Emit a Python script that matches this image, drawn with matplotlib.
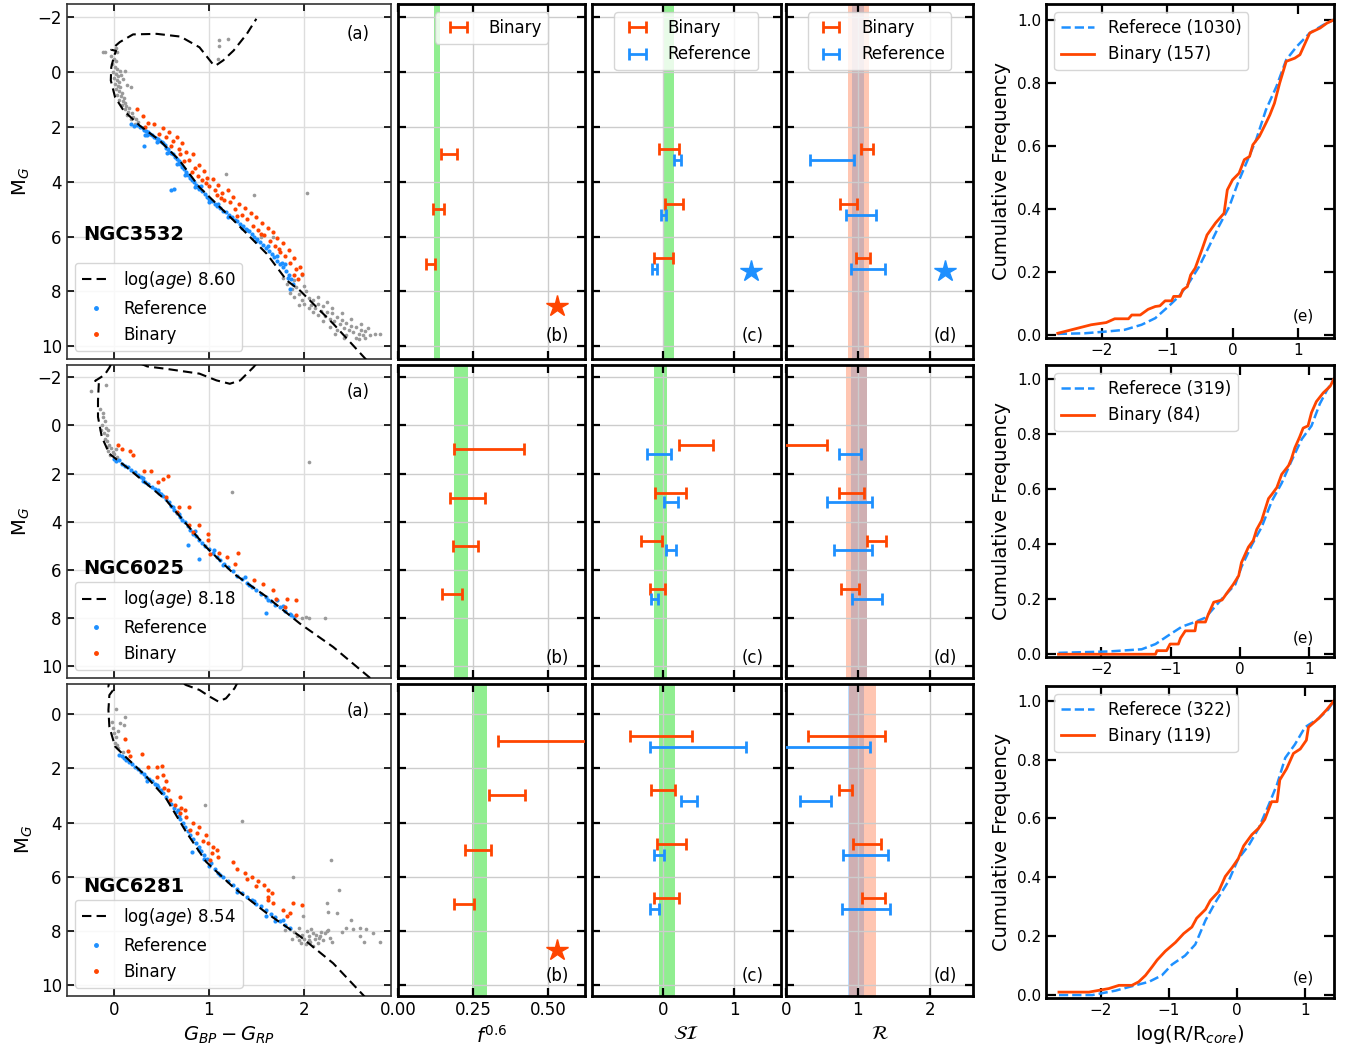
import matplotlib
matplotlib.use("Agg")
import matplotlib.pyplot as plt
from matplotlib.lines import Line2D

W, H = 1351, 1051
plt.rcParams.update({
    "font.family": "DejaVu Sans",
    "mathtext.fontset": "dejavusans",
    "font.size": 12,
})

ORANGE = "orangered"
BLUE = "dodgerblue"
GREY = "#9a9a9a"
GREEN = "lightgreen"

clusters = ["NGC3532", "NGC6025", "NGC6281"]
log_ages = ["8.60", "8.18", "8.54"]

# ---------------- colour-magnitude diagrams: (G_BP - G_RP, M_G) ----------------
n3532_iso = [(2.66, 10.5), (2.31, 9.18), (1.96, 7.97), (1.82, 7.6), (1.61, 6.63), (1.26, 5.41),
             (0.90, 4.20), (0.69, 3.22), (0.48, 2.49), (0.27, 1.95), (0.10, 1.40), (0.01, 0.91),
             (-0.035, 0.30), (-0.03, -0.18), (0.0, -0.6), (0.02, -0.78), (-0.03, -0.82),
             (0.01, -0.95), (0.06, -1.1), (0.2, -1.38), (0.45, -1.4), (0.7, -1.3), (0.9, -0.91),
             (1.04, -0.3), (1.07, -0.24), (1.15, -0.43), (1.26, -0.79), (1.40, -1.40), (1.5, -1.95)]
n3532_all = [(-0.03, -0.6), (0.0, -0.5), (0.02, -0.4), (-0.02, -0.3), (0.01, -0.2), (0.03, -0.1),
             (-0.01, 0.0), (0.02, 0.05), (0.04, 0.15), (0.0, 0.2), (0.03, 0.3), (0.05, 0.35),
             (0.01, 0.42), (0.04, 0.5), (0.06, 0.55), (0.02, 0.62), (0.05, 0.7), (0.08, 0.75),
             (0.03, 0.82), (0.07, 0.88), (0.1, 0.95), (0.05, 1.0), (0.09, 1.05), (0.12, 1.12),
             (0.08, 1.18), (0.13, 1.25), (0.16, 1.3), (0.11, 1.35), (0.15, 1.45), (0.19, 1.5),
             (0.14, 1.55), (0.2, 1.62), (0.23, 1.7), (0.18, 1.72), (0.25, 1.8), (0.22, 1.88),
             (0.02, -0.9), (-0.1, -0.75), (-0.12, -0.72), (0.09, 0.24), (0.11, -0.06), (0.18, 0.55),
             (0.14, 0.48), (0.07, 0.1), (0.06, -0.05), (0.03, -0.75),
             (1.11, -1.16), (1.2, -1.22), (1.11, -0.97), (1.10, -0.49), (1.18, 3.71), (1.47, 4.5),
             (2.03, 4.42), (1.55, 6.02), (1.68, 6.02), (1.98, 7.42),
             (1.82, 7.75), (1.88, 7.9), (1.85, 8.05), (1.92, 7.85), (1.95, 8.1), (1.9, 8.2),
             (1.98, 8.3), (2.02, 8.0), (2.05, 8.25), (2.0, 8.45), (2.08, 8.5), (2.1, 8.3),
             (2.12, 8.6), (2.15, 8.45), (2.18, 8.7), (2.2, 8.55), (2.15, 8.85), (2.22, 8.9),
             (2.25, 8.75), (2.28, 9.0), (2.3, 8.8), (2.32, 9.1), (2.35, 8.95), (2.38, 9.2),
             (2.4, 9.05), (2.42, 9.35), (2.45, 9.15), (2.48, 9.4), (2.5, 9.25), (2.52, 9.5),
             (2.55, 9.3), (2.58, 9.55), (2.6, 9.4), (2.62, 9.6), (2.65, 9.45), (2.7, 9.6),
             (2.75, 9.55), (2.8, 9.55), (2.35, 9.4), (2.45, 9.6), (2.28, 9.3), (2.55, 9.7),
             (2.2, 9.1), (2.1, 8.75), (2.05, 8.6), (1.95, 8.5), (2.4, 8.8), (2.5, 9.0),
             (2.6, 9.2), (2.68, 9.35), (2.3, 8.6), (2.15, 8.2), (1.9, 7.6), (2.0, 7.8),
             (2.42, 9.7), (2.58, 9.75), (2.33, 9.55), (1.78, 7.5), (2.25, 8.4), (2.65, 9.7)]
n3532_ref = [(0.18, 1.9), (0.21, 1.95), (0.24, 1.92), (0.27, 2.0), (0.3, 2.02), (0.32, 2.1),
             (0.34, 2.15), (0.36, 2.2),
             (0.33, 2.3), (0.38, 2.25), (0.4, 2.3), (0.42, 2.35), (0.44, 2.4), (0.46, 2.45),
             (0.48, 2.5), (0.5, 2.55), (0.52, 2.6), (0.54, 2.65), (0.55, 2.75), (0.57, 2.8),
             (0.58, 2.9), (0.6, 2.95), (0.62, 3.0), (0.64, 3.1), (0.66, 3.18), (0.68, 3.25),
             (0.7, 3.35), (0.72, 3.45), (0.74, 3.55), (0.76, 3.65), (0.78, 3.75), (0.8, 3.85),
             (0.82, 3.95), (0.84, 4.0), (0.86, 4.1), (0.88, 4.2), (0.9, 4.28), (0.6, 4.3),
             (0.63, 4.25), (0.93, 4.35), (0.96, 4.45), (0.98, 4.55), (1.0, 4.62), (1.03, 4.7),
             (1.06, 4.8), (1.09, 4.88), (1.12, 4.95), (1.15, 5.05), (1.18, 5.12), (1.21, 5.2),
             (1.24, 5.28), (1.27, 5.38), (1.3, 5.45), (1.33, 5.55), (1.36, 5.62), (1.39, 5.72),
             (1.42, 5.8), (1.45, 5.9), (1.48, 6.0), (1.51, 6.1), (1.54, 6.2), (1.57, 6.3),
             (1.6, 6.42), (1.63, 6.52), (1.66, 6.62), (1.69, 6.75), (1.72, 6.88), (1.75, 7.0),
             (1.78, 7.12), (1.81, 7.25), (1.84, 7.4), (1.87, 7.55), (1.89, 7.75), (1.86, 7.9),
             (1.8, 7.0), (1.72, 6.7), (1.5, 6.15), (1.35, 5.7), (1.2, 5.3), (1.0, 4.75),
             (0.85, 4.2), (0.75, 3.75), (0.66, 3.35), (0.56, 2.95), (0.45, 2.55), (0.35, 2.3),
             (0.31, 2.7), (0.92, 4.15), (1.1, 4.82), (1.4, 5.75), (1.62, 6.35), (1.77, 6.95),
             (1.83, 7.5)]
n3532_bin = [(0.24, 1.34), (0.3, 1.6), (0.36, 1.85), (0.33, 2.0), (0.42, 1.9), (0.47, 2.25),
             (0.52, 2.05), (0.55, 2.35), (0.58, 2.2), (0.62, 2.5), (0.6, 2.7), (0.66, 2.35),
             (0.68, 2.8), (0.72, 2.6), (0.7, 3.0), (0.76, 2.9), (0.79, 3.2), (0.74, 3.25),
             (0.83, 3.0), (0.85, 3.5), (0.82, 3.65), (0.9, 3.4), (0.88, 3.8), (0.95, 3.6),
             (0.93, 3.95), (0.98, 3.85), (1.0, 4.15), (1.04, 3.9), (1.06, 4.3), (1.1, 4.1),
             (1.08, 4.5), (1.14, 4.4), (1.16, 4.65), (1.2, 4.3), (1.22, 4.75), (1.25, 4.55),
             (1.28, 5.0), (1.32, 4.8), (1.35, 5.2), (1.38, 4.95), (1.4, 5.35), (1.44, 5.15),
             (1.46, 5.6), (1.5, 5.3), (1.52, 5.75), (1.56, 5.5), (1.58, 5.95), (1.62, 5.7),
             (1.64, 6.15), (1.68, 5.85), (1.7, 6.35), (1.72, 6.05), (1.75, 6.55), (1.78, 6.25),
             (1.8, 6.7), (1.84, 6.5), (1.86, 6.95), (1.9, 6.8), (1.92, 7.2), (1.96, 7.1),
             (1.9, 7.4), (1.94, 7.55), (1.98, 7.35), (1.13, 4.6), (1.3, 5.25), (0.97, 4.05),
             (1.55, 5.9), (1.74, 6.45)]

n6025_iso = [(2.7, 10.5), (2.31, 9.21), (1.96, 8.24), (1.61, 7.13), (1.26, 6.16), (0.97, 5.06),
             (0.76, 4.09), (0.55, 3.12), (0.34, 2.42), (0.13, 1.73), (-0.05, 1.18), (-0.13, 0.48),
             (-0.17, -0.35), (-0.17, -1.04), (-0.16, -1.85), (-0.2, -1.85), (-0.1, -2.1),
             (-0.05, -2.4), (0.0, -2.8), (0.2, -2.7), (0.35, -2.45), (0.55, -2.35), (0.9, -2.15),
             (1.08, -1.87), (1.22, -1.73), (1.33, -1.87), (1.47, -2.42), (1.55, -2.8)]
n6025_all = [(-0.24, -1.43), (-0.09, -1.66), (-0.15, -0.69), (-0.12, -0.35), (-0.1, -0.2),
             (-0.13, 0.0), (-0.09, 0.1), (-0.11, 0.3), (-0.08, 0.4), (-0.1, 0.55), (-0.07, 0.65),
             (-0.05, 0.8), (-0.08, 0.9), (-0.03, 0.95), (-0.06, 1.05), (-0.01, 1.1), (0.02, 1.0),
             (0.0, 1.2), (-0.04, 1.25), (0.03, 1.3), (-0.12, -0.5), (-0.14, 0.2), (-0.06, 0.2),
             (2.06, 1.52), (1.24, 2.77), (2.06, 7.99), (2.22, 8.0), (1.98, 8.0), (2.02, 7.95)]
n6025_ref = [(0.0, 1.4), (0.02, 1.5), (0.05, 1.45), (0.08, 1.6), (0.12, 1.7), (0.15, 1.75),
             (0.18, 1.85), (0.22, 1.95), (0.25, 2.05), (0.28, 2.15), (0.3, 2.2), (0.33, 2.35),
             (0.36, 2.45), (0.4, 2.55), (0.43, 2.65), (0.46, 2.7), (0.49, 2.85), (0.52, 2.95),
             (0.55, 3.05), (0.58, 3.2), (0.6, 3.35), (0.63, 3.5), (0.66, 3.65), (0.7, 3.8),
             (0.72, 3.95), (0.75, 4.0), (0.78, 4.2), (0.8, 4.35), (0.83, 4.5), (0.86, 4.6),
             (0.9, 4.75), (0.93, 4.9), (0.96, 5.0), (1.0, 5.15), (1.04, 5.3), (1.08, 5.45),
             (1.12, 5.6), (1.16, 5.75), (1.2, 5.9), (1.25, 6.05), (1.3, 6.25), (1.35, 6.4),
             (1.4, 6.55), (1.45, 6.7), (1.5, 6.85), (1.55, 7.0), (1.6, 7.15), (1.65, 7.3),
             (1.7, 7.45), (1.75, 7.55), (1.8, 7.7), (1.85, 7.85), (1.9, 7.95), (1.72, 7.25),
             (1.78, 7.5), (0.78, 4.99), (0.9, 5.54), (1.6, 7.8), (0.85, 4.4), (1.05, 5.2),
             (1.38, 6.3), (0.68, 3.7), (0.47, 2.8), (0.3, 2.3), (0.62, 3.4), (1.15, 5.8),
             (1.42, 6.65), (1.62, 7.25), (1.87, 7.9)]
n6025_bin = [(0.04, 0.83), (0.08, 0.97), (0.17, 1.07), (0.2, 1.25), (0.32, 1.9), (0.39, 1.9),
             (0.52, 2.22), (0.57, 2.1), (0.46, 2.35), (0.55, 2.98), (0.68, 3.39), (0.79, 3.39),
             (0.66, 3.6), (0.79, 4.16), (0.89, 4.16), (0.83, 4.43), (0.99, 4.5), (0.99, 4.78),
             (1.01, 5.33), (1.11, 5.3), (1.19, 5.47), (1.31, 5.29), (1.27, 5.75), (1.48, 6.44),
             (1.57, 6.58), (1.68, 6.86), (1.71, 7.2), (1.82, 7.2), (1.92, 7.27), (1.8, 7.55),
             (1.92, 7.89)]

n6281_iso = [(2.66, 10.5), (2.31, 9.2), (1.96, 8.2), (1.61, 7.35), (1.26, 6.4), (0.97, 5.45),
             (0.76, 4.35), (0.55, 3.12), (0.34, 2.3), (0.13, 1.6), (0.01, 1.19), (-0.05, 0.46),
             (-0.06, -0.16), (-0.05, -0.71), (-0.01, -0.9), (-0.06, -1.02), (-0.05, -1.3),
             (0.1, -1.6), (0.4, -1.6), (0.65, -1.3), (0.76, -1.08), (0.9, -0.9), (1.01, -0.65),
             (1.1, -0.47), (1.18, -0.59), (1.27, -0.96), (1.32, -1.3)]
n6281_all = [(0.02, -0.18), (0.11, 0.11), (0.06, 0.33), (0.1, 0.39), (-0.01, 0.5), (0.0, 0.7),
             (0.02, 0.85), (0.01, 1.07), (0.04, 1.25), (0.09, 1.38), (0.03, 1.15), (-0.02, 0.3),
             (0.04, 0.6), (0.96, 3.35), (1.35, 3.94), (2.29, 5.38), (2.37, 6.51), (1.89, 6.02),
             (2.24, 6.96), (2.26, 7.29), (2.35, 7.35), (1.99, 7.47), (2.5, 7.6), (2.59, 7.91),
             (2.66, 7.94), (2.52, 7.94), (2.73, 8.09), (2.8, 8.4), (2.59, 8.21), (2.64, 8.4),
             (2.45, 7.9), (2.4, 8.05), (1.85, 7.95), (1.9, 8.05), (1.95, 7.9), (1.98, 8.15),
             (2.0, 8.3), (2.03, 8.0), (2.05, 8.2), (2.07, 8.4), (2.1, 8.1), (2.12, 8.3),
             (2.15, 8.45), (2.17, 8.2), (2.2, 8.35), (2.22, 8.1), (2.25, 8.0), (2.28, 8.25),
             (1.95, 8.35), (2.02, 8.5), (2.1, 8.55), (2.18, 8.05), (1.93, 8.2), (2.08, 7.95),
             (2.13, 8.15), (1.97, 8.45), (2.3, 8.4), (2.26, 7.97), (1.8, 7.97), (1.88, 8.3),
             (2.05, 8.35), (2.16, 8.28)]
n6281_ref = [(0.05, 1.5), (0.08, 1.55), (0.1, 1.62), (0.13, 1.7), (0.16, 1.75), (0.19, 1.85),
             (0.22, 1.95), (0.25, 2.02), (0.28, 2.12), (0.31, 2.2), (0.34, 2.3), (0.37, 2.4),
             (0.4, 2.48), (0.43, 2.58), (0.46, 2.68), (0.49, 2.8), (0.52, 2.92), (0.55, 3.05),
             (0.58, 3.2), (0.6, 3.3), (0.63, 3.45), (0.65, 3.6), (0.68, 3.75), (0.7, 3.88),
             (0.73, 4.02), (0.75, 4.15), (0.78, 4.3), (0.8, 4.45), (0.83, 4.6), (0.86, 4.75),
             (0.89, 4.9), (0.92, 5.05), (0.95, 5.2), (0.98, 5.35), (1.02, 5.5), (1.06, 5.7),
             (1.1, 5.85), (1.15, 6.0), (1.2, 6.15), (1.25, 6.3), (1.3, 6.45), (1.35, 6.6),
             (1.4, 6.75), (1.45, 6.85), (1.5, 7.0), (1.55, 7.1), (1.6, 7.25), (1.65, 7.38),
             (1.7, 7.5), (1.75, 7.65), (1.8, 7.78), (1.85, 7.9), (0.82, 5.1), (1.0, 5.6),
             (1.3, 6.55), (1.6, 7.45), (1.78, 7.6), (0.45, 2.6), (0.67, 3.55), (0.9, 5.0),
             (1.12, 5.95), (1.48, 6.9), (1.7, 7.62), (0.95, 5.35), (0.35, 2.45)]
n6281_bin = [(0.11, 0.92), (0.15, 1.35), (0.17, 1.54), (0.29, 1.47), (0.36, 1.96), (0.45, 1.96),
             (0.5, 1.9), (0.52, 2.24), (0.45, 2.3), (0.55, 2.45), (0.53, 2.73), (0.57, 2.8),
             (0.59, 3.17), (0.69, 3.07), (0.64, 3.35), (0.71, 3.47), (0.75, 3.53), (0.69, 3.66),
             (0.76, 3.78), (0.83, 4.03), (0.9, 4.15), (0.8, 4.27), (0.87, 4.4), (0.97, 4.46),
             (0.94, 4.7), (0.99, 4.77), (1.04, 4.89), (1.08, 5.0), (1.03, 5.14), (1.1, 5.26),
             (1.25, 5.45), (1.3, 5.7), (1.38, 5.85), (1.45, 6.0), (1.52, 6.15), (1.5, 6.35),
             (1.58, 6.3), (1.62, 6.5), (1.66, 6.62), (1.62, 6.74), (1.68, 6.98), (1.78, 7.23),
             (1.85, 7.35), (1.89, 6.98), (1.98, 7.04), (1.82, 7.47), (1.62, 6.85), (1.4, 6.1),
             (1.01, 5.38)]

isochrones = [n3532_iso, n6025_iso, n6281_iso]
all_stars = [n3532_all, n6025_all, n6281_all]
ref_stars = [n3532_ref, n6025_ref, n6281_ref]
bin_stars = [n3532_bin, n6025_bin, n6281_bin]

# ---------------- binned statistics per magnitude bin ----------------
mag_bins = [[3, 5, 7], [1, 3, 5, 7], [1, 3, 5, 7]]

f_lo = [[0.141, 0.115, 0.091], [0.185, 0.171, 0.182, 0.146], [0.332, 0.302, 0.222, 0.186]]
f_hi = [[0.195, 0.152, 0.122], [0.419, 0.289, 0.265, 0.212], [0.75, 0.422, 0.31, 0.252]]
f_band = [(0.12, 0.14), (0.186, 0.231), (0.247, 0.296)]

si_bin_lo = [[-0.05, 0.022, -0.126], [0.223, -0.112, -0.303, -0.181], [-0.456, -0.168, -0.08, -0.121]]
si_bin_hi = [[0.227, 0.283, 0.134], [0.702, 0.325, -0.01, 0.032], [0.404, 0.172, 0.325, 0.227]]
si_ref_lo = [[0.153, -0.024, -0.153], [-0.219, 0.014, 0.042, -0.168], [-0.181, 0.255, -0.121, -0.177]]
si_ref_hi = [[0.246, 0.046, -0.089], [0.106, 0.213, 0.186, -0.075], [1.162, 0.483, 0.018, -0.061]]
si_band = [(0.0, 0.157), (-0.12, 0.055), (-0.05, 0.17)]

r_bin_lo = [[1.037, 0.756, 0.968], [-0.1, 0.733, 1.12, 0.761], [0.3, 0.733, 0.936, 1.06]]
r_bin_hi = [[1.21, 0.986, 1.162], [0.567, 1.083, 1.397, 1.01], [1.374, 0.917, 1.314, 1.383]]
r_ref_lo = [[0.34, 0.839, 0.908], [0.733, 0.567, 0.673, 0.913], [-0.2, 0.198, 0.788, 0.775]]
r_ref_hi = [[0.94, 1.245, 1.383], [1.037, 1.189, 1.199, 1.328], [1.162, 0.622, 1.415, 1.452]]
r_band_ref = [(0.92, 1.08), (0.91, 1.12), (0.86, 1.09)]
r_band_bin = [(0.86, 1.15), (0.83, 1.12), (0.87, 1.25)]

# significance stars: (panel, x, M_G, colour)
stars = [
    [("b", 0.528, 8.55, ORANGE), ("c", 1.23, 7.26, BLUE), ("d", 2.21, 7.26, BLUE)],
    [],
    [("b", 0.528, 8.71, ORANGE)],
]

# ---------------- cumulative radial distributions ----------------
cdf_ref_n = [1030, 319, 322]
cdf_bin_n = [157, 84, 119]
cdf_ref_x = [
    [-2.67, -2.26, -1.90, -1.65, -1.39, -1.18, -0.98, -0.82, -0.67, -0.51, -0.36, -0.21, -0.05,
     0.08, 0.21, 0.36, 0.51, 0.67, 0.82, 0.98, 1.18, 1.39, 1.55],
    [-2.62, -1.90, -1.42, -1.22, -1.03, -0.84, -0.65, -0.50, -0.36, -0.22, -0.07, 0.02, 0.17,
     0.31, 0.46, 0.60, 0.74, 0.89, 1.03, 1.15, 1.25, 1.355],
    [-2.61, -2.12, -1.78, -1.54, -1.29, -1.10, -0.95, -0.76, -0.61, -0.46, -0.32, -0.12, 0.02,
     0.17, 0.32, 0.46, 0.59, 0.71, 0.85, 1.00, 1.20, 1.34, 1.425],
]
cdf_ref_y = [
    [0.003, 0.005, 0.011, 0.016, 0.032, 0.053, 0.09, 0.122, 0.164, 0.217, 0.28, 0.344, 0.407,
     0.481, 0.545, 0.619, 0.714, 0.788, 0.873, 0.915, 0.958, 0.984, 1.0],
    [0.005, 0.01, 0.018, 0.037, 0.069, 0.1, 0.117, 0.133, 0.173, 0.213, 0.253, 0.317, 0.397,
     0.461, 0.557, 0.621, 0.701, 0.781, 0.829, 0.909, 0.957, 1.0],
    [0.0, 0.0, 0.015, 0.03, 0.045, 0.067, 0.104, 0.134, 0.172, 0.254, 0.313, 0.388, 0.463,
     0.507, 0.567, 0.642, 0.716, 0.806, 0.851, 0.91, 0.94, 0.97, 1.0],
]
cdf_bin_x = [
    [-2.67, -2.16, -1.93, -1.80, -1.59, -1.54, -1.41, -1.29, -1.18, -1.11, -1.03, -0.93, -0.90,
     -0.80, -0.76, -0.69, -0.64, -0.57, -0.46, -0.39, -0.26, -0.13, -0.08, 0.0, 0.10, 0.18,
     0.26, 0.31, 0.41, 0.51, 0.57, 0.64, 0.72, 0.82, 0.95, 1.03, 1.11, 1.18, 1.34, 1.44, 1.55],
    [-2.62, -1.22, -1.20, -1.06, -1.01, -0.89, -0.86, -0.79, -0.65, -0.63, -0.50, -0.46, -0.38,
     -0.26, -0.17, -0.10, -0.02, 0.02, 0.12, 0.19, 0.24, 0.31, 0.41, 0.46, 0.53, 0.60, 0.70,
     0.74, 0.79, 0.86, 0.91, 0.98, 1.03, 1.10, 1.20, 1.30, 1.355],
    [-2.61, -2.17, -1.88, -1.73, -1.54, -1.44, -1.34, -1.24, -1.17, -1.05, -0.90, -0.78, -0.66,
     -0.59, -0.46, -0.39, -0.27, -0.17, -0.07, 0.02, 0.10, 0.22, 0.32, 0.41, 0.51, 0.59, 0.63,
     0.73, 0.83, 0.93, 1.02, 1.05, 1.20, 1.32, 1.425],
]
cdf_bin_y = [
    [0.005, 0.032, 0.039, 0.051, 0.051, 0.063, 0.063, 0.081, 0.09, 0.092, 0.108, 0.108, 0.122,
     0.122, 0.143, 0.153, 0.19, 0.212, 0.275, 0.317, 0.355, 0.386, 0.46, 0.492, 0.513, 0.556,
     0.566, 0.603, 0.63, 0.672, 0.698, 0.735, 0.799, 0.868, 0.878, 0.889, 0.926, 0.958, 0.974,
     0.989, 1.0],
    [0.0, 0.0, 0.013, 0.013, 0.037, 0.037, 0.058, 0.085, 0.085, 0.117, 0.117, 0.144, 0.189,
     0.197, 0.229, 0.253, 0.285, 0.333, 0.389, 0.413, 0.453, 0.485, 0.565, 0.581, 0.605, 0.653,
     0.685, 0.709, 0.749, 0.789, 0.821, 0.829, 0.877, 0.917, 0.949, 0.973, 1.0],
    [0.01, 0.01, 0.022, 0.033, 0.033, 0.045, 0.067, 0.097, 0.119, 0.149, 0.179, 0.209, 0.231,
     0.261, 0.291, 0.321, 0.351, 0.403, 0.433, 0.463, 0.507, 0.545, 0.567, 0.597, 0.657,
     0.657, 0.731, 0.769, 0.821, 0.836, 0.866, 0.91, 0.94, 0.97, 1.0],
]

# ---------------- layout (pixel boxes) ----------------
cmd_ylims = [(10.47, -2.49), (10.5, -2.51), (10.41, -1.12)]
cdf_xlims = [(-2.85, 1.55), (-2.8, 1.355), (-2.8, 1.425)]
rows_main = [(4, 359), (365, 678), (684, 996)]
rows_cdf = [(4, 338), (365, 657), (686, 998)]
col_cmd = (66.7, 391)
col_b = (398.3, 585)
col_c = (591.7, 780.7)
col_d = (786, 973)
col_e = (1046, 1334)

fig = plt.figure(figsize=(W / 100, H / 100), dpi=100)


def px_axes(cols, rows, **kw):
    x0, x1 = cols
    y0, y1 = rows
    return fig.add_axes([x0 / W, 1 - y1 / H, (x1 - x0) / W, (y1 - y0) / H], **kw)


def frame(ax, lw=2.0, color="k", length=6, width=1.6):
    for sp in ax.spines.values():
        sp.set_linewidth(lw)
        sp.set_color(color)
    ax.tick_params(direction="in", top=True, right=True, length=length, width=width)


def bars(ax, ys, lo, hi, color):
    c = [(a + b) / 2 for a, b in zip(lo, hi)]
    e = [(b - a) / 2 for a, b in zip(lo, hi)]
    return ax.errorbar(c, ys, xerr=e, fmt="none", ecolor=color, elinewidth=2,
                       capsize=4, capthick=2, zorder=3)


for i in range(3):
    rows = rows_main[i]
    last = i == 2

    # ---- (a) colour-magnitude diagram ----
    ax = px_axes(col_cmd, rows)
    g = all_stars[i]
    ax.scatter([p[0] for p in g], [p[1] for p in g], s=7, color=GREY, lw=0, zorder=2)
    r = ref_stars[i]
    ax.scatter([p[0] for p in r], [p[1] for p in r], s=9, color=BLUE, lw=0, zorder=2.2)
    b = bin_stars[i]
    ax.scatter([p[0] for p in b], [p[1] for p in b], s=9, color=ORANGE, lw=0, zorder=2.3)
    iso = isochrones[i]
    ax.plot([p[0] for p in iso], [p[1] for p in iso], ls="--", dashes=(4.5, 2.5),
            color="k", lw=1.5, zorder=3)
    ax.set_xlim(-0.5, 2.92)
    ax.set_yticks([-2, 0, 2, 4, 6, 8, 10])
    ax.set_xticks([0, 1, 2])
    ax.grid(True, color="#dddddd", lw=1)
    frame(ax, lw=1.2, color="#333333", length=5, width=1.2)
    ax.set_ylabel("M$_G$", fontsize=14)
    ax.text(0.9, 0.915, "(a)", transform=ax.transAxes, ha="center", va="center", fontsize=12)
    ax.text(0.05, 0.35, clusters[i], transform=ax.transAxes, ha="left", va="center",
            fontsize=14, fontweight="bold")
    handles = [Line2D([], [], ls="--", dashes=(4.5, 2.5), color="k", lw=1.5),
               Line2D([], [], ls="", marker="o", ms=2.5, color=BLUE),
               Line2D([], [], ls="", marker="o", ms=2.5, color=ORANGE)]
    ax.legend(handles, [r"log($\mathit{age}$) " + log_ages[i], "Reference", "Binary"],
              loc="lower left", fontsize=12, handlelength=1.7)
    if last:
        ax.set_xlabel("$G_{BP}-G_{RP}$", fontsize=14)
    else:
        ax.tick_params(labelbottom=False)
    cmd_ax = ax

    mb = mag_bins[i]
    mb_bin = [m - 0.2 for m in mb]
    mb_ref = [m + 0.2 for m in mb]

    # ---- (b) binary fraction ----
    axb = px_axes(col_b, rows, sharey=cmd_ax)
    axb.axvspan(*f_band[i], color=GREEN, lw=0, zorder=1)
    eb = bars(axb, mb, f_lo[i], f_hi[i], ORANGE)
    axb.set_xlim(0, 0.622)
    axb.set_xticks([0, 0.25, 0.5])

    # ---- (c) segregation index ----
    axc = px_axes(col_c, rows, sharey=cmd_ax)
    axc.axvspan(*si_band[i], color=GREEN, lw=0, zorder=1)
    ec1 = bars(axc, mb_bin, si_bin_lo[i], si_bin_hi[i], ORANGE)
    ec2 = bars(axc, mb_ref, si_ref_lo[i], si_ref_hi[i], BLUE)
    axc.set_xlim(-1.0, 1.65)
    axc.set_xticks([0, 1])

    # ---- (d) R ratio ----
    axd = px_axes(col_d, rows, sharey=cmd_ax)
    axd.axvspan(*r_band_ref[i], color=BLUE, alpha=0.3, lw=0, zorder=1)
    axd.axvspan(*r_band_bin[i], color=ORANGE, alpha=0.3, lw=0, zorder=1)
    ed1 = bars(axd, mb_bin, r_bin_lo[i], r_bin_hi[i], ORANGE)
    ed2 = bars(axd, mb_ref, r_ref_lo[i], r_ref_hi[i], BLUE)
    axd.set_xlim(0, 2.6)
    axd.set_xticks([0, 1, 2])

    panels = {"b": axb, "c": axc, "d": axd}
    for tag, a in panels.items():
        a.grid(True, color="#cccccc", lw=1)
        frame(a)
        a.tick_params(labelleft=False)
        if not last:
            a.tick_params(labelbottom=False)
        a.text(0.85, 0.065, f"({tag})", transform=a.transAxes, ha="center", va="center",
               fontsize=12)
    for tag, x, y, col in stars[i]:
        panels[tag].plot([x], [y], marker="*", ms=16, color=col, ls="", zorder=4)

    if i == 0:
        axb.legend([eb], ["Binary"], loc="upper center", fontsize=12)
        axc.legend([ec1, ec2], ["Binary", "Reference"], loc="upper center", fontsize=12)
        axd.legend([ed1, ed2], ["Binary", "Reference"], loc="upper center", fontsize=12)
    if last:
        axb.set_xlabel("$f^{0.6}$", fontsize=14)
        axc.set_xlabel(r"$\mathcal{SI}$", fontsize=14)
        axd.set_xlabel(r"$\mathcal{R}$", fontsize=14)

    # shared magnitude range for the whole row, fixed after all plotting
    cmd_ax.set_ylim(*cmd_ylims[i])

    # ---- (e) cumulative radial distribution ----
    axe = px_axes(col_e, rows_cdf[i])
    axe.plot(cdf_ref_x[i], cdf_ref_y[i], ls="--", color=BLUE, lw=1.8,
             label=f"Referece ({cdf_ref_n[i]})")
    axe.plot(cdf_bin_x[i], cdf_bin_y[i], ls="-", color=ORANGE, lw=2,
             label=f"Binary ({cdf_bin_n[i]})")
    axe.set_xlim(*cdf_xlims[i])
    axe.set_ylim(-0.01, 1.05)
    axe.set_xticks([-2, -1, 0, 1])
    axe.set_yticks([0, 0.2, 0.4, 0.6, 0.8, 1.0])
    frame(axe, length=7)
    axe.tick_params(labelsize=11)
    axe.set_ylabel("Cumulative Frequency", fontsize=14)
    axe.legend(loc="upper left", fontsize=12)
    axe.text(0.895, 0.065, "(e)", transform=axe.transAxes, ha="center", va="center",
             fontsize=11)
    if last:
        axe.set_xlabel("log(R/R$_{core}$)", fontsize=14)

fig.savefig("out.png", dpi=100)
